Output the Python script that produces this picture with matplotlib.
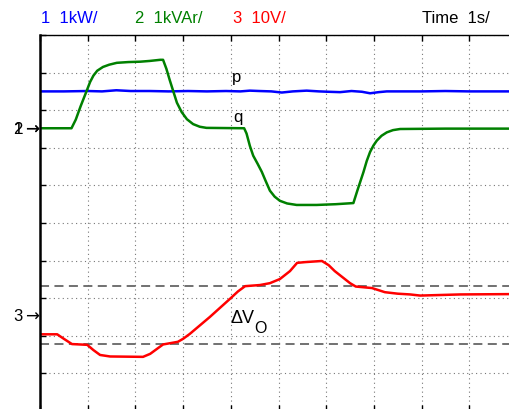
import matplotlib
matplotlib.use('Agg')
import matplotlib.pyplot as plt
import matplotlib.transforms as mtrans

plt.rcParams['font.family'] = ['Liberation Sans', 'DejaVu Sans']

# time in s (1 s / div), levels in divisions (0 = bottom, 10 = top)
t_p = [0, 0.5, 1.0, 1.3, 1.6, 1.9, 2.3, 2.7, 3.1, 3.5, 3.9, 4.2, 4.4, 4.6, 4.85, 5.07,
       5.3, 5.59, 5.85, 6.05, 6.29, 6.53, 6.75, 6.92, 7.1, 7.27, 7.6, 8.0, 8.5, 9.0, 9.5, 10]
p = [8.50, 8.50, 8.51, 8.50, 8.53, 8.51, 8.51, 8.50, 8.51, 8.50, 8.51, 8.50, 8.52, 8.51,
     8.50, 8.47, 8.50, 8.52, 8.50, 8.49, 8.48, 8.51, 8.49, 8.45, 8.48, 8.50, 8.50, 8.50,
     8.51, 8.50, 8.50, 8.50]

t_q = [0, 0.66, 0.75, 0.85, 0.98, 1.05, 1.12, 1.2, 1.32, 1.45, 1.61, 1.85, 2.10, 2.3,
       2.52, 2.58, 2.65, 2.72, 2.79, 2.87, 2.97, 3.08, 3.21, 3.35, 3.49, 4.28, 4.33, 4.40,
       4.47, 4.56, 4.65, 4.73, 4.82, 4.92, 5.03, 5.18, 5.38, 5.8, 6.2, 6.57, 6.65, 6.72,
       6.78, 6.85, 6.92, 6.99, 7.06, 7.16, 7.27, 7.4, 7.55, 8.5, 10]
q = [7.52, 7.52, 7.75, 8.10, 8.52, 8.75, 8.92, 9.05, 9.15, 9.21, 9.26, 9.28, 9.29, 9.31,
     9.34, 9.34, 9.10, 8.80, 8.52, 8.20, 7.95, 7.76, 7.63, 7.56, 7.53, 7.52, 7.38, 7.05,
     6.79, 6.58, 6.36, 6.12, 5.86, 5.70, 5.59, 5.52, 5.48, 5.48, 5.50, 5.53, 5.85, 6.12,
     6.35, 6.65, 6.89, 7.06, 7.19, 7.32, 7.41, 7.47, 7.50, 7.51, 7.51]

t_v = [0, 0.36, 0.50, 0.67, 0.99, 1.12, 1.26, 1.47, 2.16, 2.31, 2.45, 2.58, 2.89, 3.00,
       3.14, 3.56, 3.98, 4.15, 4.30, 4.61, 4.82, 5.03, 5.24, 5.39, 5.56, 5.91, 6.05, 6.18,
       6.50, 6.62, 6.96, 7.23, 7.50, 7.76, 7.97, 8.81, 10]
v = [2.04, 2.04, 1.92, 1.78, 1.76, 1.62, 1.49, 1.45, 1.44, 1.52, 1.65, 1.77, 1.84, 1.92,
     2.05, 2.50, 2.98, 3.18, 3.32, 3.35, 3.40, 3.51, 3.72, 3.94, 3.96, 3.99, 3.88, 3.72,
     3.40, 3.31, 3.27, 3.16, 3.12, 3.10, 3.07, 3.10, 3.11]

dv_levels = [3.32, 1.77]
ref_q = 7.52
ref_v = 2.53

fig = plt.figure(figsize=(5.09, 4.10), dpi=100)
ax = fig.add_axes([40/509, -2/410, 477/509, 376/410])
ax.set_xlim(0, 10)
ax.set_ylim(0, 10)
ax.set_xticks(range(11))
ax.set_yticks(range(11))
ax.set_xticklabels([])
ax.set_yticklabels([])
ax.grid(True, linestyle=(0, (1, 3)), color='#777777', linewidth=0.8)
ax.tick_params(direction='in', length=4, width=1, top=True, right=True, color='black')
ax.spines['left'].set_linewidth(1.8)
ax.spines['top'].set_linewidth(1.0)

for lv in dv_levels:
    ax.axhline(lv, color='#666666', linestyle=(0, (5, 3)), linewidth=1.3)

ax.plot(t_p, p, color='#0000ff', linewidth=1.8)
ax.plot(t_q, q, color='#008000', linewidth=1.8)
ax.plot(t_v, v, color='#ff0000', linewidth=1.8)

ax.text(4.03, 8.78, 'p', fontsize=12)
ax.text(4.05, 7.71, 'q', fontsize=12)
ax.text(4.00, 2.36, 'ΔV', fontsize=13)
ax.text(4.50, 2.09, 'O', fontsize=11.5)

tr = mtrans.blended_transform_factory(ax.transAxes, ax.transData)
for lab, lv in [('1', ref_q), ('2', ref_q), ('3', ref_v)]:
    ax.text(-0.036, lv, lab, transform=tr, ha='right', va='center', fontsize=12, clip_on=False)
    ax.text(-0.002, lv, '→', transform=tr, ha='right', va='center', fontsize=12,
            family='DejaVu Sans', clip_on=False)

fig.text(41/509, 1 - 23/410, '1  1kW/', color='#0000ff', fontsize=12)
fig.text(135/509, 1 - 23/410, '2  1kVAr/', color='#008000', fontsize=12)
fig.text(233/509, 1 - 23/410, '3  10V/', color='#ff0000', fontsize=12)
fig.text(422/509, 1 - 23/410, 'Time  1s/', color='black', fontsize=12)

fig.savefig('out.png', dpi=100)
